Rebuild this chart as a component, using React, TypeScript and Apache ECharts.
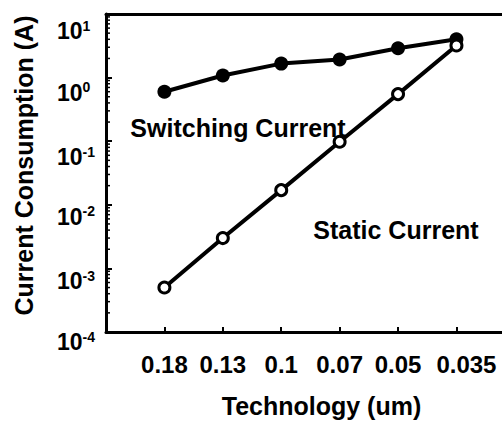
import React, { useEffect, useRef } from "react";
import * as echarts from "echarts";

// Process nodes (um) along the x axis
const categories = ["0.18", "0.13", "0.1", "0.07", "0.05", "0.035"];
// Current consumption (A) per node
const switchingCurrent = [0.6, 1.08, 1.66, 1.93, 2.9, 4.0];
const staticCurrent = [5.0e-4, 3.0e-3, 0.017, 0.098, 0.55, 3.2];
// Decades shown on the log axis
const yMin = 1e-4;
const yMax = 10;
const yExponents = [-4, -3, -2, -1, 0, 1];
const minorMultipliers = [2, 3, 4, 5, 6, 7, 8, 9];

const FONT = "'Liberation Sans', Arial, Helvetica, sans-serif";

// how far each decade label's "10" is pushed below its tick
const labelDrop = [10, 13, 12, 16, 15, 17];

export default function App() {
  const ref = useRef<HTMLDivElement>(null);

  useEffect(() => {
    if (!ref.current) return;
    const chart = echarts.init(ref.current, undefined, { renderer: "svg" });

    const xMin = -1;
    const xMax = 5.78;
    const catIdx = categories.map((_, i) => i);

    const minorTicks: number[][] = [];
    yExponents.slice(0, -1).forEach((e) => {
      minorMultipliers.forEach((m) => {
        minorTicks.push([xMin, m * Math.pow(10, e)]);
      });
    });

    const yRich: Record<string, any> = {};
    yExponents.forEach((_, k) => {
      const p = labelDrop[k] * 2;
      yRich["b" + k] = {
        fontFamily: FONT,
        fontWeight: "bold",
        fontSize: 23,
        color: "#000",
        padding: [p, 0, 0, 0],
      };
      yRich["s" + k] = {
        fontFamily: FONT,
        fontWeight: "bold",
        fontSize: 14,
        color: "#000",
        padding: [p, 0, 11, 0],
      };
    });

    chart.setOption({
      animation: false,
      backgroundColor: "#ffffff",
      grid: { left: 106, right: 0, top: 14, bottom: 82 },
      xAxis: [
        {
          type: "value",
          min: xMin,
          max: xMax,
          interval: 1,
          name: "Technology (um)",
          nameLocation: "middle",
          nameGap: 61,
          nameTextStyle: {
            fontFamily: FONT,
            fontWeight: "bold",
            fontSize: 25,
            color: "#000",
            padding: [0, 0, 0, 35],
          },
          axisLine: { show: true, onZero: false, lineStyle: { color: "#000", width: 3 } },
          axisTick: {
            show: true,
            inside: true,
            length: 5,
            lineStyle: { color: "#000", width: 2 },
            customValues: catIdx,
          },
          axisLabel: {
            margin: 20,
            customValues: catIdx,
            formatter: (v: number) => {
              const label = categories[Math.round(v)] ?? "";
              return Math.round(v) === categories.length - 1
                ? `{last|${label}}`
                : label;
            },
            fontFamily: FONT,
            fontWeight: "bold",
            fontSize: 24,
            color: "#000",
            rich: {
              last: {
                fontFamily: FONT,
                fontWeight: "bold",
                fontSize: 24,
                color: "#000",
                padding: [0, 0, 0, 20],
              },
            },
          },
          splitLine: { show: false },
        },
        {
          type: "value",
          position: "top",
          min: xMin,
          max: xMax,
          interval: 1,
          axisLine: { show: true, onZero: false, lineStyle: { color: "#000", width: 3 } },
          axisTick: { show: false },
          axisLabel: { show: false },
          splitLine: { show: false },
        },
      ],
      yAxis: {
        type: "log",
        logBase: 10,
        min: yMin,
        max: yMax,
        name: "Current Consumption (A)",
        nameLocation: "middle",
        nameGap: 70,
        nameRotate: 90,
        nameTextStyle: {
          fontFamily: FONT,
          fontWeight: "bold",
          fontSize: 25,
          color: "#000",
          padding: [0, 0, 0, 15],
        },
        axisLine: { show: true, onZero: false, lineStyle: { color: "#000", width: 3 } },
        axisTick: {
          show: true,
          inside: true,
          length: 6,
          lineStyle: { color: "#000", width: 2 },
        },
        axisLabel: {
          align: "left",
          margin: 49,
          formatter: (v: number) => {
            const e = Math.round(Math.log10(v));
            const k = yExponents.indexOf(e);
            return `{b${k}|10}{s${k}|${e}}`;
          },
          rich: yRich,
        },
        splitLine: { show: false },
      },
      series: [
        {
          // short minor ticks at 2..9 of each decade along the log axis
          type: "custom",
          silent: true,
          clip: false,
          data: minorTicks,
          encode: { x: 0, y: 1 },
          renderItem: (_params: any, api: any) => {
            const p = api.coord([api.value(0), api.value(1)]);
            return {
              type: "line",
              shape: { x1: p[0], y1: p[1], x2: p[0] + 4, y2: p[1] },
              style: { stroke: "#000", lineWidth: 1.5 },
            };
          },
          z: 1,
        },
        {
          name: "Switching Current",
          type: "line",
          data: switchingCurrent.map((v, i) => [i, v]),
          symbol: "circle",
          symbolSize: 14,
          lineStyle: { color: "#000", width: 4 },
          itemStyle: { color: "#000", borderColor: "#000", borderWidth: 0 },
          z: 3,
        },
        {
          name: "Static Current",
          type: "line",
          data: staticCurrent.map((v, i) => [i, v]),
          symbol: "circle",
          symbolSize: 11,
          showAllSymbol: true,
          lineStyle: { color: "#000", width: 4 },
          itemStyle: { color: "#fff", borderColor: "#000", borderWidth: 3 },
          z: 4,
        },
      ],
      graphic: [
        {
          type: "text",
          x: 238,
          y: 128,
          style: {
            text: "Switching Current",
            fontFamily: FONT,
            fontWeight: "bold",
            fontSize: 25,
            fill: "#000",
            align: "center",
            verticalAlign: "middle",
          },
          z: 10,
        },
        {
          type: "text",
          x: 396,
          y: 230,
          style: {
            text: "Static Current",
            fontFamily: FONT,
            fontWeight: "bold",
            fontSize: 25,
            fill: "#000",
            align: "center",
            verticalAlign: "middle",
          },
          z: 10,
        },
      ],
    });

    return () => chart.dispose();
  }, []);

  return (
    <div
      ref={ref}
      style={{ position: "fixed", left: 0, top: 0, width: 502, height: 423 }}
    />
  );
}
